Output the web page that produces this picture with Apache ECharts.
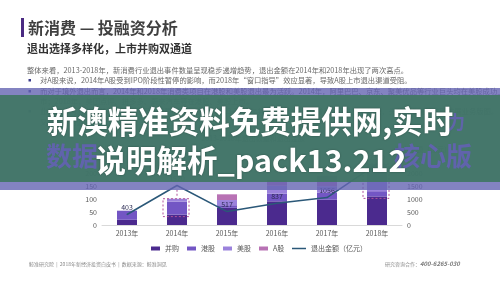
<!DOCTYPE html>
<html><head><meta charset="utf-8">
<script src="https://cdn.jsdelivr.net/npm/echarts@6/dist/echarts.min.js"></script>
<style>html,body{margin:0;padding:0;background:#fff}#c{width:500px;height:281px}</style>
</head><body><div id="c"></div>
<script>
// ---- data ----
const categories = ['2013年', '2014年', '2015年', '2016年', '2017年', '2018年'];
const mergers = [20, 40, 66, 91, 97, 110];   // 并购
const hkShares = [35, 50, 10, 30, 27, 20];   // 港股
const usShares = [0, 11, 20, 30, 25, 80];    // 美股
const aShares = [0, 0, 22, 22, 40, 25];      // A股
const exitAmount = [403, 1520, 517, 837, 1056, 2350]; // 退出金额(亿元)
const leftTicks = [0, 50, 100, 150, 200, 250];
const rightTicks = [0, 500, 1000, 1500, 2000, 2500];
const seriesNames = ['并购', '港股', '美股', 'A股'];
const lineName = '退出金额（亿元）';
const highlightedYears = [1, 5]; // dashed frames (2014, 2018)

const F = '"Noto Sans CJK SC", "Noto Sans", sans-serif';
const colors = ['#4b2a8e', '#7356c4', '#9b82dc', '#b872b4'];

const chart = echarts.init(document.getElementById('c'), null, {renderer: 'canvas'});

const barData = [mergers, hkShares, usShares, aShares];
const barSeries = seriesNames.map((n, i) => ({
  name: n, type: 'bar', stack: 'total', barWidth: 20,
  data: barData[i], itemStyle: {color: colors[i]}, z: 2
}));
const totals = categories.map((c, i) => barData.reduce((s, arr) => s + arr[i], 0));
const frameData = highlightedYears.map(i => [i, totals[i], mergers[i], i === 1 ? 1 : 0]);

function txt(x, y, t, size, color, extra) {
  return {type: 'text', x: x, y: y, z: 10,
    style: Object.assign({text: t, fontSize: size, fill: color, fontFamily: F, verticalAlign: 'middle'}, extra || {})};
}

const bodyColor = '#6a6a6a';
const graphics = [
  {type: 'rect', shape: {x: 21, y: 18, width: 3, height: 19}, style: {fill: '#4a2a82'}, z: 10},
  txt(28, 27.5, '新消费 — 投融资分析', 16, '#404040', {fontWeight: 'bold'}),
  txt(27, 49, '退出选择多样化，上市并购双通道', 11, '#333333', {fontWeight: 'bold'}),
  txt(27, 70, '整体来看，2013-2018年，新消费行业退出事件数量呈现稳步递增趋势，退出金额在2014年和2018年出现了两次高点。', 7.3, bodyColor),
  {type: 'rect', shape: {x: 28.5, y: 79, width: 2.5, height: 2.5}, style: {fill: '#3b3b8a'}, z: 10},
  txt(40, 80.5, '对A股来说，2014年A股受到IPO阶段性暂停的影响，而2018年“窗口指导”效应显著，导致A股上市退出渠道受阻。', 7.3, bodyColor),
  {type: 'rect', shape: {x: 28.5, y: 90, width: 2.5, height: 2.5}, style: {fill: '#3b3b8a'}, z: 10},
  txt(40, 91.5, '而对于境外退出而言，2014年和2018年消费类项目在港股和美股退出最为活跃。2014年，阿里巴巴、京东、聚美优品等行业巨头均在美股成功上', 7.3, bodyColor),
  txt(40, 101.5, '市；2018年，美团点评、拼多多、蔚来汽车等在港股、美股上市。', 7.3, bodyColor),
  {type: 'rect', shape: {x: 28.5, y: 110, width: 2.5, height: 2.5}, style: {fill: '#3b3b8a'}, z: 10},
  txt(40, 111.5, '此外，并购退出逐渐成为新消费行业重要的退出方式，2013-2018年并购退出数量稳步增长，行业整合加速，头部企业通过并购扩展业务版图。', 7.3, bodyColor),
  txt(40, 122, '又一重要的退出动力。', 7.3, bodyColor),
  txt(253, 138, '2013-2018年退出数量和退出金额', 7, '#595959', {align: 'center'}),
  txt(95, 149, '退出数量（起）', 7, '#595959'),
  txt(395, 149, '退出金额（亿元）', 7, '#595959'),
  // overlays
  {type: 'rect', shape: {x: 0, y: 88, width: 500, height: 102}, style: {fill: 'rgba(100,100,178,0.8)'}, z: 50},
  {type: 'rect', shape: {x: 0, y: 95, width: 500, height: 87}, style: {fill: 'rgba(62,118,98,0.9)'}, z: 51},
  Object.assign(txt(46, 156, '数据', 26, 'rgba(98,98,176,0.95)', {fontWeight: 'bold'}), {z: 52}),
  Object.assign(txt(394, 156, '核心版', 26, 'rgba(98,98,176,0.95)', {fontWeight: 'bold'}), {z: 52}),
  Object.assign(txt(447, 122, '力', 18, 'rgba(98,98,176,0.9)', {fontWeight: 'bold'}), {z: 52}),
  Object.assign(txt(250, 121, '新澳精准资料免费提供网,实时', 30.5, '#ffffff', {fontWeight: 'bold', align: 'center', textShadowColor: 'rgba(0,0,0,0.35)', textShadowBlur: 2}), {z: 60}),
  Object.assign(txt(251, 160, '说明解析_pack13.212', 30.5, '#ffffff', {fontWeight: 'bold', align: 'center', textShadowColor: 'rgba(0,0,0,0.35)', textShadowBlur: 2}), {z: 60}),
  // footer
  txt(29, 264, '鲸准研究院  |  2018年新经济投资白皮书  |  数据来源：鲸准洞见', 5, '#8a8a8a'),
  txt(385, 264, '研究咨询合作：', 5, '#8a8a8a'),
  txt(420, 264, '400-6265-030', 6, '#7a7a7a', {fontStyle: 'italic', fontWeight: 'bold'})
];

const axisLab = {show: true, fontSize: 7, color: '#595959', margin: 5, fontFamily: F, formatter: v => String(v)};
const option = {
  animation: false,
  backgroundColor: '#ffffff',
  textStyle: {fontFamily: F},
  grid: {left: 102, right: 98, top: 160, bottom: 56},
  legend: [{
    data: seriesNames, left: 146, top: 240, itemWidth: 9, itemHeight: 4, itemGap: 8,
    icon: 'rect', textStyle: {fontSize: 7, color: '#595959', fontFamily: F}, selectedMode: false
  }, {
    data: [{name: lineName, icon: 'rect'}], left: 287, top: 240, itemWidth: 14, itemHeight: 1.5,
    textStyle: {fontSize: 7, color: '#595959', fontFamily: F}, selectedMode: false
  }],
  xAxis: {
    type: 'category', data: categories,
    axisLine: {lineStyle: {color: '#d9d9d9'}}, axisTick: {show: false},
    axisLabel: {fontSize: 7, color: '#595959', margin: 5, fontFamily: F}
  },
  yAxis: [{
    type: 'value', min: leftTicks[0], max: leftTicks[leftTicks.length - 1], interval: leftTicks[1] - leftTicks[0],
    splitLine: {show: false}, axisLine: {show: false}, axisTick: {show: false},
    axisLabel: axisLab
  }, {
    type: 'value', min: rightTicks[0], max: rightTicks[rightTicks.length - 1], interval: rightTicks[1] - rightTicks[0],
    splitLine: {show: false}, axisLine: {show: false}, axisTick: {show: false},
    axisLabel: axisLab
  }],
  series: barSeries.concat([{
    name: lineName, type: 'line', yAxisIndex: 1, data: exitAmount,
    symbol: 'circle', symbolSize: 1, showSymbol: true,
    lineStyle: {color: '#2b5878', width: 1.5}, itemStyle: {color: '#2b5878'},
    label: {show: true, position: 'top', distance: 3, fontSize: 7, color: '#2d2d55', fontFamily: F}, z: 5
  }, {
    type: 'custom', yAxisIndex: 0, data: frameData, z: 8, silent: true,
    renderItem: function (params, api) {
      const top = api.coord([api.value(0), api.value(1)]);
      const bot = api.coord([api.value(0), api.value(2)]);
      const st = {fill: 'none', stroke: '#b0509a', lineWidth: 1, lineDash: [2, 2]};
      const children = [{type: 'rect', shape: {x: top[0] - 14, y: top[1], width: 26, height: bot[1] + 2 - top[1]}, style: st}];
      if (api.value(3)) {
        children.push({type: 'line', shape: {x1: top[0], y1: top[1] - 9, x2: top[0], y2: top[1] - 2}, style: st});
      }
      return {type: 'group', children: children};
    }
  }]),
  graphic: {elements: graphics}
};
chart.setOption(option);
</script>
</body></html>
